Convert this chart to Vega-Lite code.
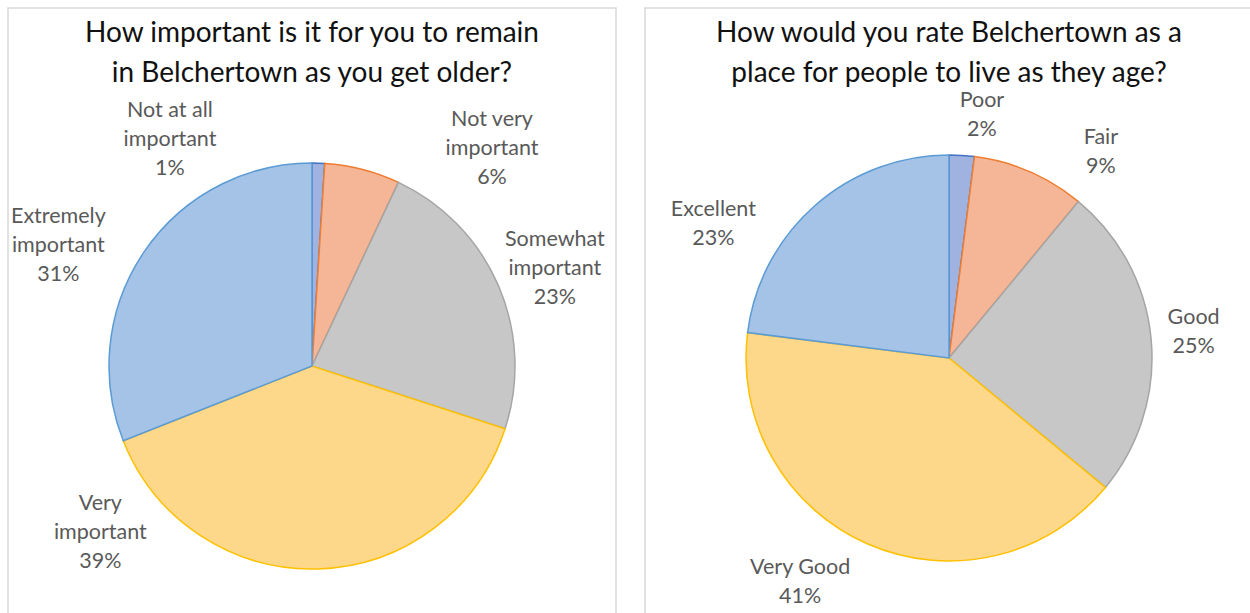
{
  "$schema": "https://vega.github.io/schema/vega-lite/v6.json",
  "padding": {"left": 7, "top": 7, "right": 0, "bottom": 0},
  "background": "white",
  "config": {
    "view": {"stroke": "#D9D9D9", "strokeWidth": 1.5},
    "style": {"cell": {"stroke": "#D9D9D9", "strokeWidth": 1.5}},
    "concat": {"spacing": 27},
    "font": "Lato"
  },
  "datasets": {
    "remain": [
      {"order": 1, "answer": "Not at all important", "label": "Not at all\nimportant", "pct": 1},
      {"order": 2, "answer": "Not very important", "label": "Not very\nimportant", "pct": 6},
      {"order": 3, "answer": "Somewhat important", "label": "Somewhat\nimportant", "pct": 23},
      {"order": 4, "answer": "Very important", "label": "Very\nimportant", "pct": 39},
      {"order": 5, "answer": "Extremely important", "label": "Extremely\nimportant", "pct": 31}
    ],
    "rate": [
      {"order": 1, "answer": "Poor", "label": "Poor", "pct": 2},
      {"order": 2, "answer": "Fair", "label": "Fair", "pct": 9},
      {"order": 3, "answer": "Good", "label": "Good", "pct": 25},
      {"order": 4, "answer": "Very Good", "label": "Very Good", "pct": 41},
      {"order": 5, "answer": "Excellent", "label": "Excellent", "pct": 23}
    ]
  },
  "hconcat": [
    {
      "width": 608,
      "height": 716,
      "view": {"stroke": "#D9D9D9", "strokeWidth": 1.5},
      "title": {
        "text": ["How important is it for you to remain", "in Belchertown as you get older?"],
        "orient": "top", "anchor": "middle", "offset": -80, "baseline": "top",
        "font": "Lato", "fontSize": 28, "fontWeight": "normal", "color": "#111111", "lineHeight": 40
      },
      "data": {"name": "remain"},
      "transform": [
        {"stack": "pct", "groupby": [], "sort": [{"field": "order", "order": "ascending"}], "as": ["t0", "t1"]},
        {"calculate": "(datum.t0 + datum.t1) / 2", "as": "tm"},
        {"calculate": "datum.label + '\\n' + datum.pct + '%'", "as": "txt"}
      ],
      "layer": [
        {
          "mark": {"type": "arc", "radius": 203, "strokeWidth": 1.5},
          "encoding": {
            "theta": {"field": "t0", "type": "quantitative", "scale": {"domain": [0, 100], "range": [0, 6.283185307179586]}},
            "theta2": {"field": "t1"},
            "color": {"field": "answer", "type": "nominal", "legend": null,
              "scale": {"domain": ["Not at all important", "Not very important", "Somewhat important", "Very important", "Extremely important"],
                        "range": ["#A0B2DF", "#F5B597", "#C7C7C7", "#FDD78A", "#A4C3E7"]}},
            "stroke": {"field": "answer", "type": "nominal", "legend": null,
              "scale": {"domain": ["Not at all important", "Not very important", "Somewhat important", "Very important", "Extremely important"],
                        "range": ["#4472C4", "#ED7D31", "#A5A5A5", "#FFC000", "#5B9BD5"]}}
          }
        },
        {
          "transform": [{"filter": "datum.order == 1"}],
          "mark": {"type": "text", "radius": 268, "thetaOffset": -0.590, "dy": -28, "align": "center", "baseline": "middle", "lineBreak": "\n", "fontSize": 21.5, "color": "#595959", "lineHeight": 29},
          "encoding": {"theta": {"field": "tm", "type": "quantitative"}, "text": {"field": "txt"}}
        },
        {
          "transform": [{"filter": "datum.order == 2"}],
          "mark": {"type": "text", "radius": 283, "thetaOffset": 0.438, "dy": -28, "align": "center", "baseline": "middle", "lineBreak": "\n", "fontSize": 21.5, "color": "#595959", "lineHeight": 29},
          "encoding": {"theta": {"field": "tm", "type": "quantitative"}, "text": {"field": "txt"}}
        },
        {
          "transform": [{"filter": "datum.order == 3"}],
          "mark": {"type": "text", "radius": 262, "thetaOffset": 0.024, "dy": -28, "align": "center", "baseline": "middle", "lineBreak": "\n", "fontSize": 21.5, "color": "#595959", "lineHeight": 29},
          "encoding": {"theta": {"field": "tm", "type": "quantitative"}, "text": {"field": "txt"}}
        },
        {
          "transform": [{"filter": "datum.order == 4"}],
          "mark": {"type": "text", "radius": 269, "thetaOffset": 0.937, "dy": -28, "align": "center", "baseline": "middle", "lineBreak": "\n", "fontSize": 21.5, "color": "#595959", "lineHeight": 29},
          "encoding": {"theta": {"field": "tm", "type": "quantitative"}, "text": {"field": "txt"}}
        },
        {
          "transform": [{"filter": "datum.order == 5"}],
          "mark": {"type": "text", "radius": 281, "thetaOffset": -0.152, "dy": -28, "align": "center", "baseline": "middle", "lineBreak": "\n", "fontSize": 21.5, "color": "#595959", "lineHeight": 29},
          "encoding": {"theta": {"field": "tm", "type": "quantitative"}, "text": {"field": "txt"}}
        }
      ]
    },
    {
      "width": 608,
      "height": 700,
      "view": {"stroke": "#D9D9D9", "strokeWidth": 1.5},
      "title": {
        "text": ["How would you rate Belchertown as a", "place for people to live as they age?"],
        "orient": "top", "anchor": "middle", "offset": -80, "baseline": "top",
        "font": "Lato", "fontSize": 28, "fontWeight": "normal", "color": "#111111", "lineHeight": 40
      },
      "data": {"name": "rate"},
      "transform": [
        {"stack": "pct", "groupby": [], "sort": [{"field": "order", "order": "ascending"}], "as": ["t0", "t1"]},
        {"calculate": "(datum.t0 + datum.t1) / 2", "as": "tm"},
        {"calculate": "datum.label + '\\n' + datum.pct + '%'", "as": "txt"}
      ],
      "layer": [
        {
          "mark": {"type": "arc", "radius": 203, "strokeWidth": 1.5},
          "encoding": {
            "theta": {"field": "t0", "type": "quantitative", "scale": {"domain": [0, 100], "range": [0, 6.283185307179586]}},
            "theta2": {"field": "t1"},
            "color": {"field": "answer", "type": "nominal", "legend": null,
              "scale": {"domain": ["Poor", "Fair", "Good", "Very Good", "Excellent"],
                        "range": ["#A0B2DF", "#F5B597", "#C7C7C7", "#FDD78A", "#A4C3E7"]}},
            "stroke": {"field": "answer", "type": "nominal", "legend": null,
              "scale": {"domain": ["Poor", "Fair", "Good", "Very Good", "Excellent"],
                        "range": ["#4472C4", "#ED7D31", "#A5A5A5", "#FFC000", "#5B9BD5"]}}
          }
        },
        {
          "transform": [{"filter": "datum.order == 1"}],
          "mark": {"type": "text", "radius": 245, "thetaOffset": 0.072, "dy": -14, "align": "center", "baseline": "middle", "lineBreak": "\n", "fontSize": 21.5, "color": "#595959", "lineHeight": 29},
          "encoding": {"theta": {"field": "tm", "type": "quantitative"}, "text": {"field": "txt"}}
        },
        {
          "transform": [{"filter": "datum.order == 2"}],
          "mark": {"type": "text", "radius": 256, "thetaOffset": 0.227, "dy": -14, "align": "center", "baseline": "middle", "lineBreak": "\n", "fontSize": 21.5, "color": "#595959", "lineHeight": 29},
          "encoding": {"theta": {"field": "tm", "type": "quantitative"}, "text": {"field": "txt"}}
        },
        {
          "transform": [{"filter": "datum.order == 3"}],
          "mark": {"type": "text", "radius": 246, "thetaOffset": -0.012, "dy": -14, "align": "center", "baseline": "middle", "lineBreak": "\n", "fontSize": 21.5, "color": "#595959", "lineHeight": 29},
          "encoding": {"theta": {"field": "tm", "type": "quantitative"}, "text": {"field": "txt"}}
        },
        {
          "transform": [{"filter": "datum.order == 4"}],
          "mark": {"type": "text", "radius": 269, "thetaOffset": 0.178, "dy": -14, "align": "center", "baseline": "middle", "lineBreak": "\n", "fontSize": 21.5, "color": "#595959", "lineHeight": 29},
          "encoding": {"theta": {"field": "tm", "type": "quantitative"}, "text": {"field": "txt"}}
        },
        {
          "transform": [{"filter": "datum.order == 5"}],
          "mark": {"type": "text", "radius": 271, "thetaOffset": -0.332, "dy": -14, "align": "center", "baseline": "middle", "lineBreak": "\n", "fontSize": 21.5, "color": "#595959", "lineHeight": 29},
          "encoding": {"theta": {"field": "tm", "type": "quantitative"}, "text": {"field": "txt"}}
        }
      ]
    }
  ]
}
